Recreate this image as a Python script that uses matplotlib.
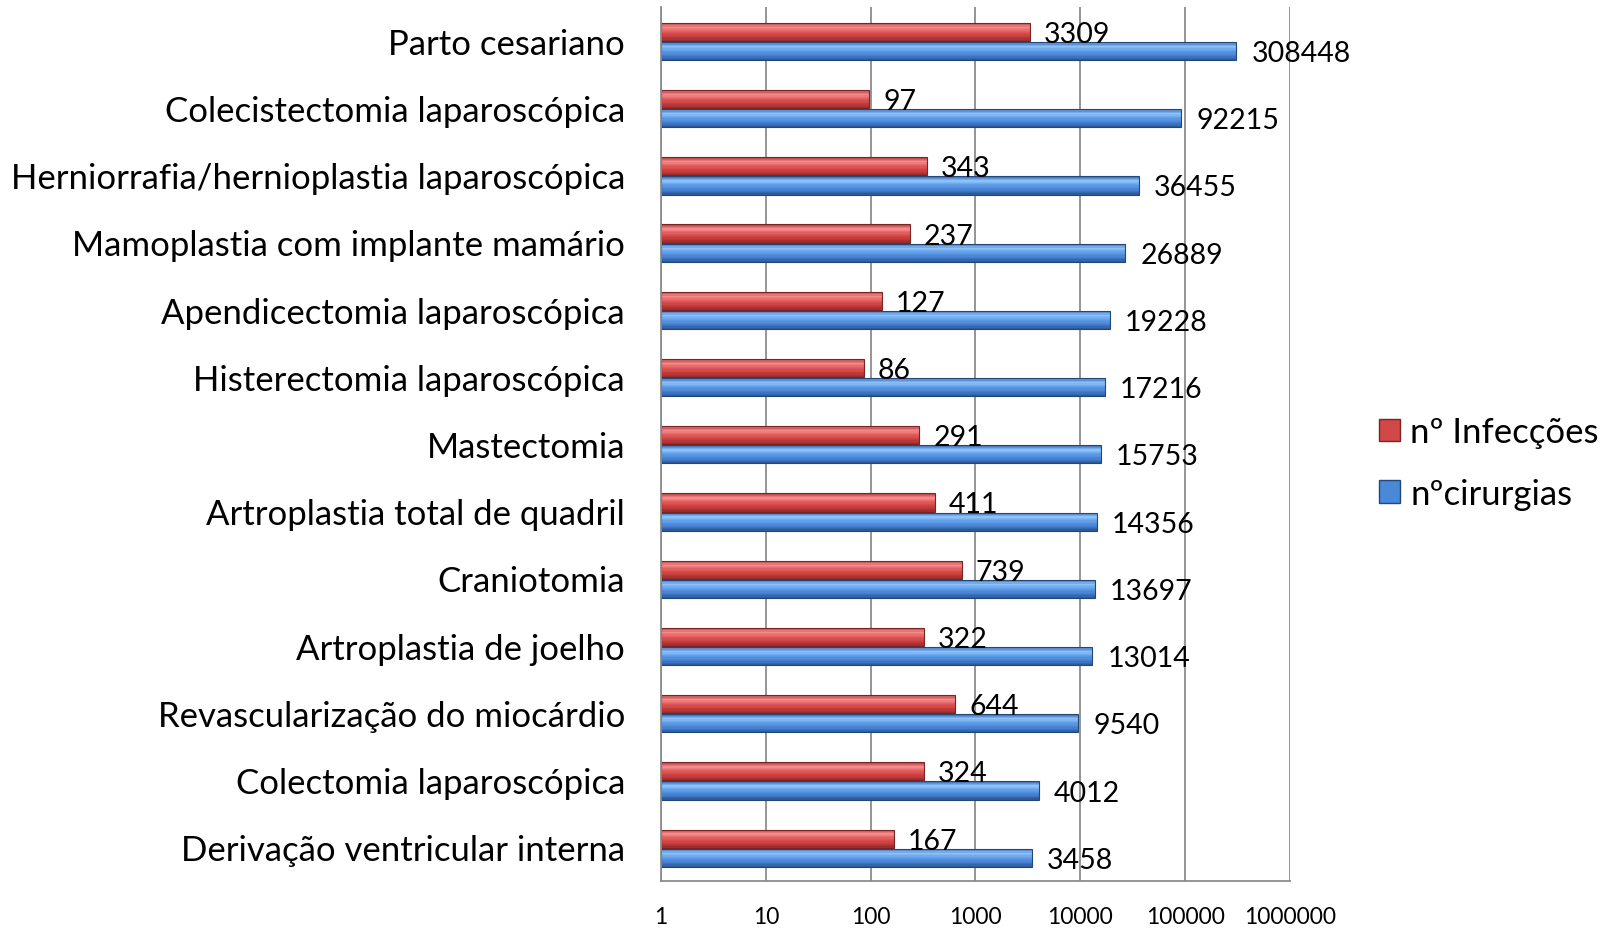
import numpy as np
import matplotlib.pyplot as plt
from matplotlib.colors import to_rgb
from matplotlib.patches import Patch
from matplotlib.ticker import NullLocator

categorias = ['Parto cesariano', 'Colecistectomia laparoscópica',
              'Herniorrafia/hernioplastia laparoscópica',
              'Mamoplastia com implante mamário', 'Apendicectomia laparoscópica',
              'Histerectomia laparoscópica', 'Mastectomia',
              'Artroplastia total de quadril', 'Craniotomia',
              'Artroplastia de joelho', 'Revascularização do miocárdio',
              'Colectomia laparoscópica', 'Derivação ventricular interna']
infeccoes = [3309, 97, 343, 237, 127, 86, 291, 411, 739, 322, 644, 324, 167]
cirurgias = [308448, 92215, 36455, 26889, 19228, 17216, 15753, 14356, 13697,
             13014, 9540, 4012, 3458]
ticks = [1, 10, 100, 1000, 10000, 100000, 1000000]
tick_labels = ['1', '10', '100', '1000', '10000', '100000', '1000000']

plt.rcParams['font.family'] = ['Lato', 'DejaVu Sans']

# gradiente vertical (de cima para baixo) imitando o efeito 3D do Excel
grad_verm = ['#b84444', '#f58a8a', '#e05858', '#c83c3c', '#962a2a']
grad_azul = ['#3f70b8', '#8cc2fa', '#5c9ae6', '#4480d0', '#2b5290']


def barra_3d(ax, yc, vals, h, cores, borda):
    n = 14
    stops = np.linspace(0, 1, len(cores))
    rgb = np.array([to_rgb(c) for c in cores])
    for k in range(n):
        t = (k + 0.5) / n
        cor = [np.interp(t, stops, rgb[:, j]) for j in range(3)]
        # k=0 fica em cima
        ytop = yc + h / 2 - k * h / n
        ax.barh(ytop - h / (2 * n), [v - 1 for v in vals], height=h / n,
                left=1, color=cor, linewidth=0)
    ax.barh(yc, [v - 1 for v in vals], height=h, left=1, fill=False,
            edgecolor=borda, linewidth=0.8)


fig = plt.figure(figsize=(16.15, 9.29), dpi=100)
ax = fig.add_axes([661 / 1615, 1 - 882 / 929, 629 / 1615, 874 / 929])

n = len(categorias)
y = np.arange(n)[::-1]
h = 0.27
y_verm = y + 0.13
y_azul = y - 0.155

barra_3d(ax, y_verm, infeccoes, h, grad_verm, '#7a2424')
barra_3d(ax, y_azul, cirurgias, h, grad_azul, '#24477a')

for v, yy in zip(infeccoes, y_verm):
    ax.annotate(str(v), (v, yy), xytext=(14, -2), textcoords='offset pixels',
                va='center', ha='left', fontsize=20.5)
for v, yy in zip(cirurgias, y_azul):
    ax.annotate(str(v), (v, yy), xytext=(15, -2), textcoords='offset pixels',
                va='center', ha='left', fontsize=20.5)

ax.set_xscale('log')
ax.set_xlim(1, 1e6)
ax.set_ylim(-0.5, n - 0.5)
ax.set_xticks(ticks)
ax.set_xticklabels(tick_labels)
ax.xaxis.set_minor_locator(NullLocator())
ax.set_yticks(y)
ax.set_yticklabels(categorias, fontsize=25)
ax.tick_params(axis='x', length=0, pad=18, labelsize=16.5)
ax.tick_params(axis='y', length=0, pad=26)
ax.grid(axis='x', color='#8c8c8c', linewidth=1.3)
ax.set_axisbelow(True)
for s in ['top', 'right']:
    ax.spines[s].set_visible(False)
for s in ['left', 'bottom']:
    ax.spines[s].set_color('#8c8c8c')
    ax.spines[s].set_linewidth(1.3)

handles = [Patch(facecolor='#d04848', edgecolor='#7a2424'),
           Patch(facecolor='#4a88d8', edgecolor='#24477a')]
fig.legend(handles, ['nº Infecções', 'nºcirurgias'], loc='center left',
           bbox_to_anchor=(1348 / 1615, 1 - 464 / 929), frameon=False,
           fontsize=25, handlelength=0.6, handleheight=0.6,
           handletextpad=0.3, labelspacing=0.85)

fig.savefig('out.png', dpi=100)
